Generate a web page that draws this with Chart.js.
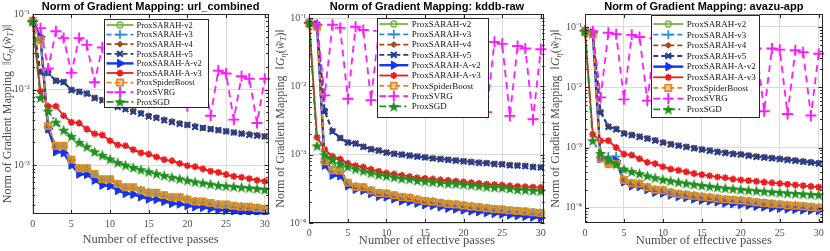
<!DOCTYPE html>
<html>
<head>
<meta charset="utf-8">
<script src="https://cdn.jsdelivr.net/npm/chart.js@4.4.0/dist/chart.umd.min.js"></script>
<style>
  body { margin: 0; background: #fff; width: 830px; height: 251px; position: relative; overflow: hidden; }
  canvas { position: absolute; top: 0; }
</style>
</head>
<body>
<canvas id="p1" width="276" height="251" style="left:0px"></canvas>
<canvas id="p2" width="280" height="251" style="left:272px"></canvas>
<canvas id="p3" width="282" height="251" style="left:548px"></canvas>
<script>
// ---- data ----
var passes = [0, 1, 2, 3, 4, 5, 6, 7, 8, 9, 10, 11, 12, 13, 14, 15, 16, 17, 18, 19, 20, 21, 22, 23, 24, 25, 26, 27, 28, 29, 30];
var seriesNames = ["ProxSARAH-v2", "ProxSARAH-v3", "ProxSARAH-v4", "ProxSARAH-v5", "ProxSARAH-A-v2",
                   "ProxSARAH-A-v3", "ProxSpiderBoost", "ProxSVRG", "ProxSGD"];
var datasetNames = ["url_combined", "kddb-raw", "avazu-app"];
var xTicks = [0, 5, 10, 15, 20, 25, 30];
var yTicks = [1e-4, 1e-3, 1e-2, 1e-1];

// url_combined
var url_v2 = [0.080, 0.048, 0.0032, 0.00175, 0.00175, 0.00115, 0.00089, 0.00089, 0.00074, 0.00064, 0.00064, 0.00055, 0.00050, 0.00050, 0.00045, 0.00042, 0.00042, 0.00039, 0.00037, 0.00037, 0.00034, 0.00032, 0.00032, 0.00031, 0.00029, 0.00029, 0.00028, 0.00027, 0.00027, 0.00026, 0.00026];
var url_v3 = [0.080, 0.046, 0.0032, 0.00176, 0.00176, 0.00116, 0.00090, 0.00090, 0.00075, 0.00064, 0.00064, 0.00055, 0.00050, 0.00050, 0.00046, 0.00043, 0.00042, 0.00039, 0.00037, 0.00037, 0.00035, 0.00033, 0.00032, 0.00031, 0.00030, 0.00029, 0.00028, 0.00028, 0.00027, 0.00027, 0.00026];
var url_v4 = [0.080, 0.0172, 0.0167, 0.0132, 0.0126, 0.0100, 0.0094, 0.0089, 0.0078, 0.0073, 0.0065, 0.0060, 0.0056, 0.0052, 0.0049, 0.0045, 0.0043, 0.0040, 0.0038, 0.0036, 0.0034, 0.0033, 0.0031, 0.0030, 0.0029, 0.0028, 0.0027, 0.0026, 0.0026, 0.0025, 0.0024];
var url_v5 = [0.080, 0.0170, 0.0165, 0.0130, 0.0125, 0.0098, 0.0093, 0.0088, 0.0077, 0.0072, 0.0064, 0.0059, 0.0055, 0.0051, 0.0048, 0.0044, 0.0042, 0.0039, 0.0037, 0.0035, 0.0034, 0.0032, 0.0031, 0.0030, 0.0029, 0.0028, 0.0027, 0.0026, 0.0025, 0.00245, 0.0024];
var url_av2 = [0.080, 0.050, 0.0030, 0.0015, 0.00145, 0.00100, 0.00076, 0.00075, 0.00063, 0.00054, 0.00053, 0.00046, 0.00042, 0.00041, 0.00038, 0.000355, 0.00035, 0.00033, 0.00031, 0.000305, 0.00029, 0.00028, 0.000275, 0.000265, 0.000255, 0.00025, 0.000245, 0.00024, 0.000237, 0.000234, 0.00023];
var url_av3 = [0.080, 0.0095, 0.0060, 0.0060, 0.0045, 0.0037, 0.0036, 0.0030, 0.0026, 0.0025, 0.0021, 0.00185, 0.0018, 0.0016, 0.00145, 0.0014, 0.00128, 0.00118, 0.00114, 0.00105, 0.00098, 0.00095, 0.00089, 0.00083, 0.00080, 0.00075, 0.00071, 0.00069, 0.00066, 0.00063, 0.00061];
var url_spider = [0.080, 0.045, 0.0033, 0.0018, 0.0018, 0.00118, 0.00091, 0.00091, 0.00076, 0.00065, 0.00065, 0.00056, 0.00051, 0.00051, 0.00046, 0.00043, 0.00043, 0.00040, 0.000375, 0.000375, 0.00035, 0.00033, 0.00033, 0.000315, 0.00030, 0.00030, 0.00029, 0.00028, 0.00028, 0.00027, 0.000265];
var url_svrg = [0.080, 0.065, 0.019, 0.059, 0.048, 0.0166, 0.048, 0.039, 0.0125, 0.036, 0.031, 0.010, 0.030, 0.026, 0.0085, 0.026, 0.022, 0.0072, 0.022, 0.019, 0.0060, 0.020, 0.017, 0.0045, 0.0178, 0.0163, 0.0040, 0.015, 0.0139, 0.0036, 0.0139];
var url_sgd = [0.080, 0.0078, 0.0052, 0.0037, 0.0029, 0.0024, 0.0020, 0.00175, 0.0015, 0.00135, 0.0012, 0.00108, 0.0010, 0.00093, 0.00087, 0.00082, 0.00077, 0.00073, 0.00069, 0.00066, 0.00063, 0.00060, 0.00058, 0.00056, 0.00054, 0.00053, 0.00052, 0.00051, 0.00050, 0.00049, 0.000475];

// kddb-raw
var kddb_v2 = [0.085, 0.078, 0.00085, 0.00073, 0.00062, 0.00038, 0.00034, 0.00033, 0.000295, 0.00027, 0.000265, 0.00025, 0.000237, 0.000232, 0.000218, 0.000208, 0.000203, 0.000195, 0.000188, 0.000184, 0.000178, 0.000172, 0.000168, 0.000163, 0.000159, 0.000156, 0.000152, 0.000149, 0.000146, 0.000142, 0.000139];
var kddb_v3 = [0.085, 0.080, 0.00078, 0.00058, 0.00057, 0.00038, 0.00034, 0.00033, 0.00030, 0.000272, 0.000268, 0.000252, 0.000238, 0.000233, 0.000219, 0.000209, 0.000204, 0.000196, 0.000189, 0.000185, 0.000179, 0.000173, 0.000169, 0.000164, 0.000159, 0.000157, 0.000152, 0.000149, 0.000146, 0.000142, 0.000139];
var kddb_v4 = [0.085, 0.081, 0.0044, 0.00223, 0.00177, 0.00152, 0.00147, 0.00132, 0.00122, 0.00116, 0.00108, 0.00104, 0.00101, 0.00098, 0.00095, 0.00092, 0.00089, 0.00087, 0.00085, 0.00083, 0.00081, 0.00079, 0.00077, 0.00076, 0.00074, 0.00073, 0.00071, 0.00070, 0.00069, 0.00067, 0.00066];
var kddb_v5 = [0.085, 0.080, 0.0043, 0.0022, 0.00175, 0.0015, 0.00145, 0.0013, 0.0012, 0.00115, 0.00107, 0.00103, 0.0010, 0.00097, 0.00094, 0.00091, 0.00088, 0.00086, 0.00084, 0.00082, 0.0008, 0.00078, 0.00076, 0.00075, 0.00073, 0.00072, 0.0007, 0.00069, 0.00068, 0.00066, 0.00065];
var kddb_av2 = [0.085, 0.080, 0.0007, 0.0005, 0.00049, 0.00035, 0.00031, 0.0003, 0.00027, 0.000245, 0.00024, 0.000225, 0.00021, 0.000205, 0.000195, 0.000185, 0.00018, 0.000172, 0.000165, 0.00016, 0.000155, 0.00015, 0.000146, 0.000142, 0.000138, 0.000135, 0.000131, 0.000128, 0.000125, 0.000122, 0.000119];
var kddb_av3 = [0.085, 0.0018, 0.0012, 0.00095, 0.00086, 0.00075, 0.00069, 0.00066, 0.00061, 0.00057, 0.00054, 0.00052, 0.0005, 0.00048, 0.00046, 0.00045, 0.00044, 0.00043, 0.00042, 0.00041, 0.0004, 0.00039, 0.00038, 0.00037, 0.000365, 0.00036, 0.00035, 0.000345, 0.00034, 0.000335, 0.00033];
var kddb_spider = [0.085, 0.075, 0.0008, 0.00059, 0.00058, 0.00039, 0.00034, 0.000335, 0.0003, 0.000275, 0.00027, 0.000255, 0.00024, 0.000235, 0.00022, 0.00021, 0.000205, 0.000197, 0.00019, 0.000186, 0.00018, 0.000174, 0.00017, 0.000165, 0.00016, 0.000158, 0.000153, 0.00015, 0.000147, 0.000143, 0.00014];
var kddb_svrg = [0.085, 0.080, 0.0074, 0.080, 0.072, 0.0066, 0.075, 0.067, 0.0063, 0.065, 0.060, 0.0058, 0.058, 0.053, 0.0053, 0.055, 0.050, 0.0050, 0.052, 0.047, 0.0046, 0.050, 0.046, 0.0042, 0.045, 0.042, 0.0037, 0.039, 0.036, 0.0033, 0.035];
var kddb_sgd = [0.085, 0.00135, 0.001, 0.00085, 0.00074, 0.00067, 0.00062, 0.00058, 0.00054, 0.00051, 0.00049, 0.00047, 0.00045, 0.00044, 0.00042, 0.00041, 0.0004, 0.00039, 0.00038, 0.000375, 0.00037, 0.00036, 0.00035, 0.00034, 0.000335, 0.00033, 0.00032, 0.00031, 0.000305, 0.0003, 0.000295];

// avazu-app
var avazu_v2 = [0.085, 0.078, 0.00065, 0.00052, 0.0006, 0.00028, 0.00025, 0.000245, 0.000215, 0.000197, 0.000192, 0.000178, 0.000168, 0.000163, 0.000156, 0.00015, 0.000146, 0.000141, 0.000137, 0.000134, 0.00013, 0.000126, 0.000122, 0.000119, 0.000116, 0.000113, 0.000109, 0.000107, 0.000105, 0.000102, 0.0001];
var avazu_v3 = [0.085, 0.080, 0.00068, 0.00071, 0.00071, 0.00029, 0.000255, 0.00025, 0.00022, 0.0002, 0.000195, 0.00018, 0.00017, 0.000165, 0.000158, 0.000152, 0.000148, 0.000143, 0.000138, 0.000135, 0.000132, 0.000128, 0.000124, 0.00012, 0.000117, 0.000114, 0.00011, 0.000108, 0.000106, 0.000103, 0.0001];
var avazu_v4 = [0.085, 0.081, 0.0039, 0.00225, 0.00204, 0.00174, 0.00163, 0.00153, 0.00143, 0.00133, 0.00123, 0.00115, 0.00109, 0.00104, 0.00099, 0.00094, 0.0009, 0.00086, 0.00083, 0.0008, 0.00078, 0.00075, 0.00072, 0.0007, 0.00068, 0.00066, 0.00064, 0.00062, 0.0006, 0.00058, 0.00056];
var avazu_v5 = [0.085, 0.080, 0.0038, 0.0022, 0.002, 0.0017, 0.0016, 0.0015, 0.0014, 0.0013, 0.0012, 0.00113, 0.00107, 0.00102, 0.00097, 0.00092, 0.00088, 0.00084, 0.00081, 0.00078, 0.00076, 0.00073, 0.0007, 0.00068, 0.00066, 0.00064, 0.00062, 0.0006, 0.00058, 0.00056, 0.00054];
var avazu_av2 = [0.085, 0.080, 0.00065, 0.0006, 0.0006, 0.00027, 0.00023, 0.000225, 0.0002, 0.00018, 0.000175, 0.000163, 0.000153, 0.000148, 0.00014, 0.000134, 0.00013, 0.000125, 0.00012, 0.000117, 0.000113, 0.00011, 0.000106, 0.000103, 0.0001, 0.000098, 0.000096, 0.000094, 0.000092, 0.000091, 0.00009];
var avazu_av3 = [0.085, 0.00165, 0.0013, 0.0013, 0.001, 0.00078, 0.00075, 0.00065, 0.00057, 0.00054, 0.00048, 0.00044, 0.00042, 0.000395, 0.00037, 0.000355, 0.00034, 0.000325, 0.000315, 0.0003, 0.00029, 0.000282, 0.000275, 0.000267, 0.00026, 0.000253, 0.000247, 0.00024, 0.000233, 0.000227, 0.00022];
var avazu_spider = [0.085, 0.075, 0.00066, 0.00055, 0.00054, 0.00029, 0.000255, 0.00025, 0.00022, 0.0002, 0.000195, 0.00018, 0.00017, 0.000165, 0.000158, 0.000152, 0.000148, 0.000143, 0.000138, 0.000135, 0.000132, 0.000128, 0.000124, 0.00012, 0.000117, 0.000114, 0.00011, 0.000108, 0.000106, 0.000103, 0.0001];
var avazu_svrg = [0.087, 0.085, 0.0068, 0.080, 0.076, 0.0063, 0.074, 0.068, 0.0060, 0.065, 0.060, 0.0055, 0.058, 0.054, 0.0050, 0.054, 0.050, 0.0047, 0.050, 0.046, 0.0044, 0.047, 0.044, 0.0040, 0.044, 0.042, 0.0036, 0.041, 0.038, 0.0034, 0.036];
var avazu_sgd = [0.085, 0.0013, 0.0008, 0.00065, 0.00053, 0.00044, 0.0004, 0.00037, 0.00034, 0.000315, 0.000295, 0.00028, 0.000268, 0.000256, 0.000245, 0.000236, 0.000228, 0.00022, 0.000213, 0.000207, 0.000202, 0.000197, 0.000192, 0.000188, 0.000184, 0.00018, 0.000176, 0.000173, 0.00017, 0.000167, 0.000165];

// ---- styles ----
function makeStar(color, size) {
  var c = document.createElement("canvas");
  c.width = c.height = size;
  var g = c.getContext("2d");
  var R = size / 2 - 0.5, r = R * 0.42, cx = size / 2, cy = size / 2 + 0.6;
  g.beginPath();
  for (var k = 0; k < 10; k++) {
    var ang = -Math.PI / 2 + k * Math.PI / 5;
    var rad = k % 2 ? r : R;
    g.lineTo(cx + rad * Math.cos(ang), cy + rad * Math.sin(ang));
  }
  g.closePath();
  g.fillStyle = color;
  g.fill();
  return c;
}

var looks = [
  { color: "#78b344", dash: [], lw: 1.8, point: "circle", r: 3, fill: "rgba(255,255,255,0)", pbw: 1.4 },
  { color: "#2b8cd9", dash: [5, 3], lw: 1.8, point: "cross", r: 4.5, fill: "#2b8cd9", pbw: 1.7 },
  { color: "#9e4b1f", dash: [5, 3], lw: 1.8, point: "rectRot", r: 3, fill: "#9e4b1f", pbw: 1 },
  { color: "#233d91", dash: [5, 3], lw: 1.8, point: "crossRot", r: 4, fill: "#233d91", pbw: 2.2 },
  { color: "#1433f2", dash: [], lw: 2.4, point: "triangle", r: 4.8, rot: 90, fill: "#1433f2", pbw: 1 },
  { color: "#ee1c1c", dash: [], lw: 1.8, point: "star", r: 3.5, fill: "#ee1c1c", pbw: 1.7 },
  { color: "#e08c1e", dash: [5, 3], lw: 1.8, point: "rect", r: 4.5, fill: "rgba(224,140,30,0.45)", pbw: 1.6 },
  { color: "#ff1aff", dash: [7, 5], lw: 1.8, point: "cross", r: 5.5, fill: "#ff1aff", pbw: 1.9 },
  { color: "#219021", dash: [7, 3, 2, 3], lw: 1.8, point: makeStar("#219021", 13), r: 5, fill: "#219021", pbw: 1 }
];

var panels = [
  { id: "p1", name: datasetNames[0],
    values: [url_v2, url_v3, url_v4, url_v5, url_av2, url_av3, url_spider, url_svrg, url_sgd],
    yMin: 2.25e-4, yMax: 0.1, yAxisW: 32.7, xAxisH: 37, padRight: 6, yTitleX: 8, xTitleY: 240,
    legend: { x: 103.5, y: 19, w: 105, h: 89, first: 25, row: 9.6, l0: 106.5, l1: 133.5, tx: 136.5, font: 8.5 } },
  { id: "p2", name: datasetNames[1],
    values: [kddb_v2, kddb_v3, kddb_v4, kddb_v5, kddb_av2, kddb_av3, kddb_spider, kddb_svrg, kddb_sgd],
    yMin: 1e-4, yMax: 0.115, yAxisW: 37.3, xAxisH: 28, padRight: 5.3, yTitleX: 9, xTitleY: 241,
    legend: { x: 104.7, y: 18.3, w: 111.6, h: 100, first: 24, row: 10.3, l0: 107.3, l1: 136.3, tx: 139.7, font: 9 } },
  { id: "p3", name: datasetNames[2],
    values: [avazu_v2, avazu_v3, avazu_v4, avazu_v5, avazu_av2, avazu_av3, avazu_spider, avazu_svrg, avazu_sgd],
    yMin: 5.6e-5, yMax: 0.164, yAxisW: 37, xAxisH: 28, padRight: 6, yTitleX: 8, xTitleY: 241,
    legend: { x: 103, y: 14.5, w: 109, h: 103, first: 24, row: 10.66, l0: 105.3, l1: 135.3, tx: 138.7, font: 9 } }
];

var SERIF = '"Liberation Serif", "Times New Roman", serif';
var AXIS_GREY = "#4d4d4d";

function supPow(v) {
  var map = { "-": "\u207B", "0": "\u2070", "1": "\u00B9", "2": "\u00B2", "3": "\u00B3", "4": "\u2074", "5": "\u2075" };
  return "10" + String(Math.round(Math.log10(v))).split("").map(function (ch) { return map[ch]; }).join("");
}

function logMarks(min, max) {
  var out = [];
  for (var e = Math.floor(Math.log10(min)); e <= Math.ceil(Math.log10(max)); e++) {
    for (var k = 1; k < 10; k++) {
      var v = k * Math.pow(10, e);
      if (v >= min && v <= max) out.push([v, k === 1]);
    }
  }
  return out;
}

function drawParts(ctx, parts, size) {
  var total = 0;
  parts.forEach(function (p) {
    ctx.font = (p.it ? "italic " : "") + (p.sub ? size * 0.7 : size) + "px " + SERIF;
    p.w = ctx.measureText(p.t).width;
    total += p.w;
  });
  var x = -total / 2;
  parts.forEach(function (p) {
    ctx.font = (p.it ? "italic " : "") + (p.sub ? size * 0.7 : size) + "px " + SERIF;
    ctx.fillText(p.t, x, p.sub ? 3 : 0);
    x += p.w;
  });
}

var decorPlugin = {
  id: "decor",
  afterDatasetsDraw: function (chart) {
    var p = chart.options.plugins.decor.panel;
    var ctx = chart.ctx, a = chart.chartArea, xs = chart.scales.x, ys = chart.scales.y;
    ctx.save();
    // axes box and inward ticks
    ctx.strokeStyle = "#262626";
    ctx.lineWidth = 1;
    ctx.beginPath();
    logMarks(ys.min, ys.max).forEach(function (m) {
      var py = Math.round(ys.getPixelForValue(m[0])) + 0.5, len = m[1] ? 4 : 2.5;
      ctx.moveTo(a.left, py); ctx.lineTo(a.left + len, py);
      ctx.moveTo(a.right, py); ctx.lineTo(a.right - len, py);
    });
    xTicks.forEach(function (v) {
      var px = Math.round(xs.getPixelForValue(v)) + 0.5;
      ctx.moveTo(px, a.bottom); ctx.lineTo(px, a.bottom - 4);
      ctx.moveTo(px, a.top); ctx.lineTo(px, a.top + 4);
    });
    ctx.stroke();
    ctx.strokeRect(Math.round(a.left) + 0.5, Math.round(a.top) + 0.5,
                   Math.round(a.right - a.left) - 1, Math.round(a.bottom - a.top) - 1);

    // legend box
    var L = p.legend;
    ctx.fillStyle = "#fff";
    ctx.fillRect(L.x, L.y, L.w, L.h);
    ctx.strokeStyle = "#262626";
    ctx.strokeRect(Math.round(L.x) + 0.5, Math.round(L.y) + 0.5, Math.round(L.w) - 1, Math.round(L.h) - 1);
    chart.data.datasets.forEach(function (ds, i) {
      var cy = L.first + i * L.row;
      ctx.save();
      ctx.strokeStyle = ds.borderColor;
      ctx.lineWidth = ds.borderWidth;
      ctx.setLineDash(ds.borderDash);
      ctx.beginPath();
      ctx.moveTo(L.l0, cy);
      ctx.lineTo(L.l1, cy);
      ctx.stroke();
      ctx.setLineDash([]);
      ctx.fillStyle = ds.pointBackgroundColor;
      ctx.strokeStyle = ds.pointBorderColor;
      ctx.lineWidth = ds.pointBorderWidth;
      Chart.helpers.drawPoint(ctx, {
        pointStyle: ds.pointStyle, radius: ds.pointRadius,
        rotation: ds.pointRotation, borderWidth: ds.pointBorderWidth
      }, (L.l0 + L.l1) / 2, cy);
      ctx.restore();
      ctx.fillStyle = "#111";
      ctx.font = L.font + "px " + SERIF;
      ctx.textAlign = "left";
      ctx.textBaseline = "middle";
      ctx.fillText(ds.label, L.tx, cy + 0.5);
    });
    ctx.restore();
  },
  afterDraw: function (chart) {
    var p = chart.options.plugins.decor.panel;
    var ctx = chart.ctx, a = chart.chartArea;
    var cx = (a.left + a.right) / 2;
    ctx.save();
    ctx.fillStyle = "#000";
    ctx.font = "bold 11px \"Liberation Sans\", Arial, sans-serif";
    ctx.textAlign = "center";
    ctx.textBaseline = "middle";
    ctx.fillText("Norm of Gradient Mapping: " + p.name, cx, 7);

    ctx.fillStyle = AXIS_GREY;
    ctx.font = "12.5px " + SERIF;
    ctx.fillText("Number of effective passes", cx, p.xTitleY);

    ctx.translate(p.yTitleX, (a.top + a.bottom) / 2);
    ctx.rotate(-Math.PI / 2);
    ctx.textAlign = "left";
    drawParts(ctx, [
      { t: "Norm of Gradient Mapping  \u2016" },
      { t: "G", it: true },
      { t: "\u03B7", it: true, sub: true },
      { t: "(" },
      { t: "w\u0303", it: true },
      { t: "T", it: true, sub: true },
      { t: ")\u2016" }
    ], 12);
    ctx.restore();
  }
};

panels.forEach(function (p) {
  var datasets = seriesNames.map(function (name, i) {
    var s = looks[i];
    return {
      label: name,
      data: p.values[i].map(function (v, j) { return { x: passes[j], y: v }; }),
      borderColor: s.color,
      backgroundColor: s.fill,
      borderWidth: s.lw,
      borderDash: s.dash,
      pointStyle: s.point,
      pointRadius: s.r,
      pointRotation: s.rot || 0,
      pointBorderWidth: s.pbw,
      pointBorderColor: s.color,
      pointBackgroundColor: s.fill,
      tension: 0,
      order: seriesNames.length - i,
      clip: { left: 6, top: 6, right: 6, bottom: 1 }
    };
  });

  new Chart(document.getElementById(p.id), {
    type: "line",
    data: { datasets: datasets },
    plugins: [decorPlugin],
    options: {
      responsive: false,
      animation: false,
      layout: { padding: { top: 14, left: 0, right: p.padRight, bottom: 0 } },
      plugins: {
        legend: { display: false },
        tooltip: { enabled: false },
        decor: { panel: p }
      },
      scales: {
        x: {
          type: "linear",
          min: 0,
          max: 30.5,
          afterBuildTicks: function (s) { s.ticks = xTicks.map(function (v) { return { value: v }; }); },
          afterFit: function (s) { s.height = p.xAxisH; },
          border: { display: false },
          grid: { color: "#dadada", lineWidth: 1, drawTicks: false },
          ticks: { padding: 4, maxRotation: 0, color: AXIS_GREY, font: { size: 10, family: SERIF } }
        },
        y: {
          type: "logarithmic",
          min: p.yMin,
          max: p.yMax,
          afterBuildTicks: function (s) {
            s.ticks = yTicks.filter(function (v) { return v >= s.min && v <= s.max; })
                            .map(function (v) { return { value: v }; });
          },
          afterFit: function (s) { s.width = p.yAxisW; },
          border: { display: false },
          grid: { color: "#dadada", lineWidth: 1, drawTicks: false },
          ticks: {
            padding: 3,
            color: AXIS_GREY,
            font: { size: 10, family: SERIF },
            callback: function (v) { return supPow(v); }
          }
        }
      }
    }
  });
});
</script>
</body>
</html>
